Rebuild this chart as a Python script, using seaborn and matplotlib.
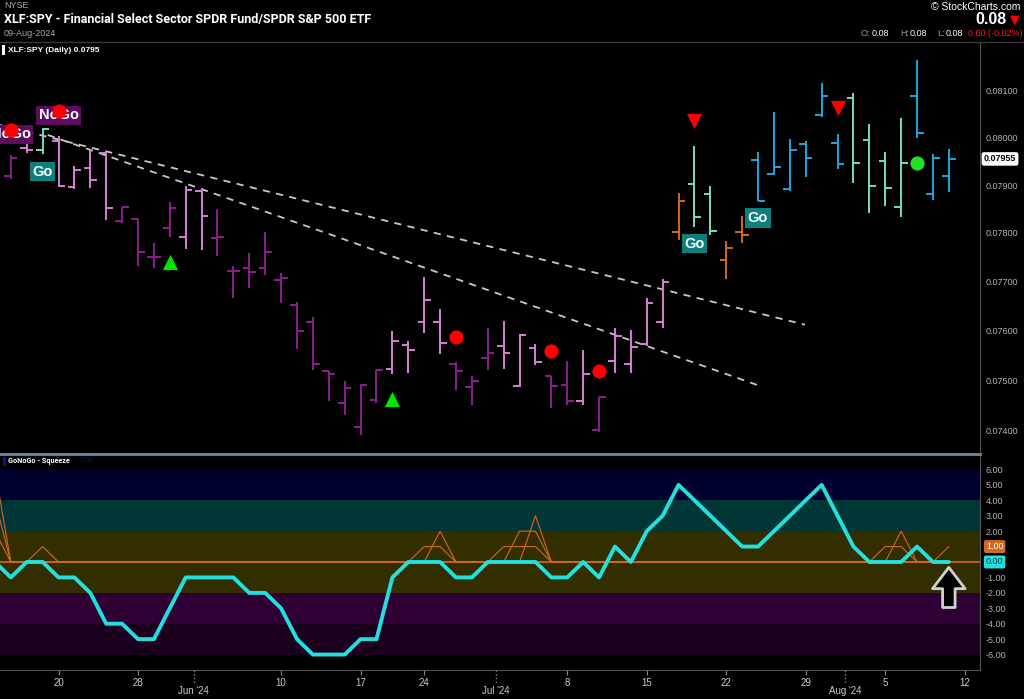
import pandas as pd
import matplotlib
matplotlib.use("Agg")
import matplotlib.pyplot as plt
import matplotlib.transforms as mtrans
from matplotlib.patches import Rectangle
from matplotlib.ticker import FixedLocator, NullLocator, FuncFormatter
import seaborn as sns

# trading days on the chart (market holidays dropped); Aug 12 only carries the last tick
holidays = ["2024-05-27", "2024-06-19", "2024-07-04"]
days = pd.bdate_range("2024-05-14", "2024-08-12")
days = days[~days.isin(pd.to_datetime(holidays))]

# XLF:SPY daily OHLC, May 14 .. Aug 9
opens = [0.07990, 0.07918, 0.07979, 0.07974, 0.07994, 0.07896, 0.07936, 0.07967,
         0.07825, 0.07829, 0.07751, 0.07811, 0.07792, 0.07888, 0.07790, 0.07722,
         0.07728, 0.07727, 0.07702, 0.07652, 0.07617, 0.07518, 0.07456, 0.07407,
         0.07462, 0.07523, 0.07571, 0.07617, 0.07618, 0.07533, 0.07487, 0.07545,
         0.07569, 0.07489, 0.07565, 0.07508, 0.07491, 0.07460, 0.07402, 0.07539,
         0.07533, 0.07573, 0.07618, 0.07801, 0.07902, 0.07881, 0.07744, 0.07801,
         0.07953, 0.07923, 0.07892, 0.07987, 0.08049, 0.07989, 0.08084, 0.07996,
         0.07951, 0.07855, 0.08090, 0.07881, 0.07919]
highs = [0.08010, 0.07964, 0.07998, 0.08021, 0.08004, 0.07941, 0.07973, 0.07971,
         0.07853, 0.07829, 0.07779, 0.07865, 0.07899, 0.07893, 0.07850, 0.07732,
         0.07758, 0.07801, 0.07717, 0.07658, 0.07627, 0.07518, 0.07498, 0.07493,
         0.07520, 0.07599, 0.07579, 0.07710, 0.07643, 0.07537, 0.07508, 0.07605,
         0.07620, 0.07593, 0.07573, 0.07508, 0.07538, 0.07561, 0.07468, 0.07605,
         0.07601, 0.07666, 0.07705, 0.07883, 0.07982, 0.07899, 0.07784, 0.07835,
         0.07970, 0.08054, 0.07997, 0.07992, 0.08118, 0.08007, 0.08095, 0.08029,
         0.07970, 0.08042, 0.08166, 0.07966, 0.07976]
lows = [0.07975, 0.07913, 0.07968, 0.07966, 0.07896, 0.07891, 0.07893, 0.07827,
        0.07820, 0.07731, 0.07727, 0.07792, 0.07767, 0.07764, 0.07753, 0.07666,
        0.07687, 0.07713, 0.07656, 0.07563, 0.07521, 0.07460, 0.07432, 0.07392,
        0.07455, 0.07513, 0.07515, 0.07596, 0.07553, 0.07481, 0.07452, 0.07521,
        0.07523, 0.07487, 0.07531, 0.07446, 0.07452, 0.07452, 0.07397, 0.07515,
        0.07515, 0.07569, 0.07605, 0.07786, 0.07813, 0.07795, 0.07706, 0.07780,
        0.07867, 0.07921, 0.07888, 0.07916, 0.08044, 0.07934, 0.07905, 0.07842,
        0.07857, 0.07834, 0.07999, 0.07869, 0.07886]
closes = [0.08000, 0.07956, 0.07973, 0.08019, 0.07899, 0.07932, 0.07911, 0.07851,
          0.07853, 0.07760, 0.07751, 0.07851, 0.07890, 0.07836, 0.07791, 0.07722,
          0.07720, 0.07761, 0.07708, 0.07600, 0.07533, 0.07513, 0.07484, 0.07490,
          0.07520, 0.07579, 0.07560, 0.07662, 0.07576, 0.07519, 0.07499, 0.07555,
          0.07555, 0.07591, 0.07536, 0.07489, 0.07460, 0.07512, 0.07467, 0.07590,
          0.07568, 0.07657, 0.07698, 0.07867, 0.07833, 0.07805, 0.07768, 0.07796,
          0.07867, 0.07939, 0.07973, 0.07957, 0.08090, 0.07945, 0.07946, 0.07898,
          0.07893, 0.07947, 0.08010, 0.07956, 0.07955]
# GoNoGo state per bar: g=Go, b=strong Go, o=neutral, p=NoGo, m=strong NoGo
bar_state = ("gmpgpppp" "mmmm" "pp" "mmmmmmmmmmm" "pppp" "mmm" "ppp" "mm" "p" "m"
             "pppp" "o" "gg" "oo" "bbbbbb" "gggg" "bbb")

# GoNoGo squeeze oscillator
squeeze = [0, -1, 0, 0, -1, -1, -2, -4, -4, -5, -5, -3, -1, -1, -1, -1, -2, -2, -3, -5,
           -6, -6, -6, -5, -5, -1, 0, 0, 0, -1, -1, 0, 0, 0, 0, -1, -1, 0, -1, 1,
           0, 2, 3, 5, 4, 3, 2, 1, 1, 2, 3, 4, 5, 3, 1, 0, 0, 0, 1, 0, 0]
# thin orange squeeze build-up lines, non-zero days only
squeeze_grid = [
    {"2024-05-14": 6, "2024-05-17": 1, "2024-06-24": 1, "2024-06-25": 1,
     "2024-07-01": 1, "2024-07-02": 1, "2024-07-03": 1, "2024-08-05": 1,
     "2024-08-06": 1, "2024-08-09": 1},
    {"2024-05-14": 4, "2024-06-25": 2, "2024-07-02": 2, "2024-07-03": 2,
     "2024-08-06": 2},
    {"2024-05-14": 2, "2024-07-03": 3},
]

# signal markers
nogo_dots = {"2024-05-15": 0.08017, "2024-05-20": 0.08058, "2024-06-26": 0.07588,
             "2024-07-05": 0.07558, "2024-07-10": 0.07519}
go_dots = {"2024-08-07": 0.07946}
up_triangles = {"2024-05-30": 0.07740, "2024-06-20": 0.07463}
down_triangles = {"2024-07-18": 0.08036, "2024-07-31": 0.08063}
go_labels = {"2024-05-17": 0.07928, "2024-07-18": 0.07778, "2024-07-24": 0.07831}
nogo_labels = {"2024-05-15": 0.08007, "2024-05-20": 0.08048}

# dashed trend lines: (start date, start price, end date, end price)
trend_lines = [("2024-05-14", 0.08027, "2024-07-29", 0.07612),
               ("2024-05-17", 0.08006, "2024-07-24", 0.07491)]

price_ticks = [0.074, 0.075, 0.076, 0.077, 0.078, 0.079, 0.080, 0.081]
squeeze_ticks = [-6, -5, -4, -3, -2, -1, 0, 1, 2, 3, 4, 5, 6]
zones = [(4, 6, "#000030"), (2, 4, "#003636"), (-2, 2, "#332e00"),
         (-4, -2, "#2f0033"), (-6, -4, "#1a001e")]

day_ticks = ["2024-05-20", "2024-05-28", "2024-06-10", "2024-06-17", "2024-06-24",
             "2024-07-08", "2024-07-15", "2024-07-22", "2024-07-29", "2024-08-05",
             "2024-08-12"]
day_labels = ["20", "28", "10", "17", "24", "8", "15", "22", "29", "5", "12"]
month_labels = ["Jun '24", "Jul '24", "Aug '24"]
month_starts = ["2024-06-03", "2024-07-01", "2024-08-01"]

pos = {d.strftime("%Y-%m-%d"): i for i, d in enumerate(days)}
n = len(opens)
df = pd.DataFrame({"x": range(n), "open": opens, "high": highs, "low": lows,
                   "close": closes, "sqz": squeeze})

sns.set_style("dark", {"axes.facecolor": "black", "figure.facecolor": "black"})
plt.rcParams["font.family"] = ["Liberation Sans", "DejaVu Sans"]
narrow = ["Liberation Sans Narrow", "Roboto", "DejaVu Sans"]

W, H = 1024, 699
fig = plt.figure(figsize=(W / 100, H / 100), dpi=100, facecolor="black")
ax = fig.add_axes([0, 1 - 452 / H, 980 / W, 410 / H])
ax2 = fig.add_axes([0, 1 - 670 / H, 980 / W, 216 / H], sharex=ax)

state_colors = {"m": "#901c90", "p": "#d680d6", "g": "#78e0b8",
                "b": "#1ea6dc", "o": "#d2691e"}
cols = [state_colors[s] for s in bar_state]

# ---- price panel
ax.set_facecolor("black")
ax.set_yscale("log")
w = 0.42
ax.vlines(df.x, df.low, df.high, colors=cols, lw=1.4, zorder=3)
ax.hlines(df.open, df.x - w, df.x, colors=cols, lw=1.4, zorder=3)
ax.hlines(df.close, df.x, df.x + w, colors=cols, lw=1.4, zorder=3)

for d0, p0, d1, p1 in trend_lines:
    ax.plot([pos[d0] + 0.32, pos[d1] - 0.05], [p0, p1], color="#c8c8c8", lw=1.3,
            ls=(0, (4, 3.5)), zorder=2)

for lab, table, fc in [("Go", go_labels, "#0e7f7f"), ("NoGo", nogo_labels, "#5c0d5c")]:
    for d, p in table.items():
        ax.text(pos[d], p, lab, ha="center", va="center", color="white",
                fontweight="bold", fontsize=10.5, zorder=4,
                bbox=dict(boxstyle="square,pad=0.18", fc=fc, ec="none"))


def marks(table, marker, color, size):
    sns.scatterplot(x=[pos[d] for d in table], y=list(table.values()), marker=marker,
                    color=color, s=size, linewidth=0, ax=ax, zorder=5)


marks(nogo_dots, "o", "#ff0000", 105)
marks(go_dots, "o", "#22e022", 105)
marks(up_triangles, "^", "#00e600", 120)
marks(down_triangles, "v", "#ff0000", 120)

ax.set_xlim(0.32, 61.96)
ax.set_ylim(0.073587, 0.082062)
ax.yaxis.tick_right()
ax.yaxis.set_major_locator(FixedLocator(price_ticks))
ax.yaxis.set_minor_locator(NullLocator())
ax.yaxis.set_major_formatter(FuncFormatter(lambda v, _: f"{v:.5f}"))
ax.tick_params(axis="y", colors="#b4b4b4", labelsize=6.5, length=0, pad=4)
ax.tick_params(axis="x", bottom=False, labelbottom=False)
for s in ["left", "top", "bottom"]:
    ax.spines[s].set_visible(False)
ax.spines["right"].set_color("#555555")
ax.set_xlabel("")
ax.set_ylabel("")

yblend = mtrans.blended_transform_factory(ax.transAxes, ax.transData)
ax.text(1.004, closes[-1], f"{closes[-1]:.5f}", transform=yblend, ha="left",
        va="center", fontsize=6.5, fontweight="bold", color="black",
        bbox=dict(boxstyle="round,pad=0.25", fc="white", ec="none"))

# ---- squeeze panel
ax2.set_facecolor("black")
for lo, hi, c in zones:
    ax2.axhspan(lo, hi, color=c, lw=0, zorder=0)
ax2.axhline(0, color="#d2691e", lw=1.2, zorder=2)
for grid in squeeze_grid:
    vals = pd.Series(grid).reindex(days[:n].strftime("%Y-%m-%d")).fillna(0).values
    sns.lineplot(x=df["x"], y=vals, color="#d2691e", lw=0.8, ax=ax2, zorder=3)
sns.lineplot(x=df["x"], y=df["sqz"], color="#22e0e0", lw=2.8, ax=ax2, zorder=4)

ax2.annotate("", xy=(n - 1, -0.35), xytext=(n - 1, -2.95),
             arrowprops=dict(arrowstyle="simple,head_length=0.85,head_width=1.3,tail_width=0.5",
                             fc="black", ec="#d0d0d0", lw=2, mutation_scale=18,
                             shrinkA=0, shrinkB=0), zorder=6)

ax2.set_ylim(-7, 7)
ax2.yaxis.tick_right()
ax2.set_yticks(squeeze_ticks)
ax2.yaxis.set_major_formatter(FuncFormatter(lambda v, _: f"{v:.2f}"))
ax2.tick_params(axis="y", colors="#b4b4b4", labelsize=6.5, length=0, pad=4)
ax2.set_xticks([pos[d] for d in day_ticks])
ax2.set_xticklabels(day_labels)
ax2.tick_params(axis="x", colors="#8a8a8a", labelcolor="#cccccc", labelsize=7,
                length=3.5, pad=2, bottom=True)
ax2.spines["left"].set_visible(False)
ax2.spines["right"].set_color("#555555")
ax2.spines["bottom"].set_color("#555555")
ax2.spines["top"].set_color("#6a8aa8")
ax2.spines["top"].set_linewidth(2)
ax2.set_xlabel("")
ax2.set_ylabel("")

xblend = mtrans.blended_transform_factory(ax2.transData, ax2.transAxes)
for lab, d in zip(month_labels, month_starts):
    mx = pos[d] - 0.5
    ax2.plot([mx, mx], [0, -0.06], transform=xblend, color="#8a8a8a", lw=1,
             ls=":", clip_on=False)
    ax2.text(mx, -0.097, lab, transform=xblend, ha="center", va="center",
             fontsize=7, color="#cccccc")

yblend2 = mtrans.blended_transform_factory(ax2.transAxes, ax2.transData)
ax2.text(1.006, squeeze_grid[0]["2024-08-09"], "1.00", transform=yblend2,
         ha="left", va="center", fontsize=6.5, color="white",
         bbox=dict(boxstyle="round,pad=0.22", fc="#d2691e", ec="none"))
ax2.text(1.006, squeeze[-1], "0.00", transform=yblend2, ha="left", va="center",
         fontsize=6.5, color="#0a3a3a",
         bbox=dict(boxstyle="round,pad=0.22", fc="#22e0e0", ec="none"))

# ---- header and panel legends
def px(x, y):
    return x / W, 1 - y / H


fig.add_artist(plt.Line2D([0, 1], [1 - 42 / H] * 2, color="#3a3a3a", lw=1))
fig.text(*px(4, 6), "NYSE", fontsize=6.5, color="#aaaaaa", va="center")
fig.text(*px(4, 20), "XLF:SPY - Financial Select Sector SPDR Fund/SPDR S&P 500 ETF",
         fontsize=9, fontweight="bold", color="white", va="center", family=narrow)
fig.text(*px(4, 33), "09-Aug-2024", fontsize=6.5, color="#aaaaaa", va="center")
fig.text(*px(1020, 7), "\u00a9 StockCharts.com", fontsize=7.5, color="white",
         ha="right", va="center")
fig.text(*px(1006, 20), "0.08", fontsize=11.5, fontweight="bold", color="white",
         ha="right", va="center")
fig.text(*px(1010, 20), "\u25bc", fontsize=9, color="#ff0000", ha="left", va="center",
         family=["DejaVu Sans"])
for x0, t, c in [(861, "O:", "#999999"), (872, "0.08", "white"), (900, "H:", "#999999"),
                 (910, "0.08", "white"), (937, "L:", "#999999"), (946, "0.08", "white"),
                 (968, "0.00 (-0.02%)", "#ff1a1a")]:
    fig.text(*px(x0, 34), t, fontsize=6.5, color=c, va="center")

fig.add_artist(Rectangle(px(2, 55), 3 / W, 10 / H, transform=fig.transFigure,
                         fc="white", ec="none"))
fig.text(*px(8, 50), "XLF:SPY (Daily) 0.0795", fontsize=6, fontweight="bold",
         color="white", va="center")
fig.add_artist(Rectangle(px(3, 466), 3 / W, 9 / H, transform=fig.transFigure,
                         fc="#1010a0", ec="none"))
fig.text(*px(8, 461), "GoNoGo - Squeeze", fontsize=5.2, fontweight="bold",
         color="white", va="center", family=narrow)
fig.text(*px(80, 461), "0.00", fontsize=5.2, color="#101070", va="center")

fig.savefig("out.png", dpi=100, facecolor="black")
